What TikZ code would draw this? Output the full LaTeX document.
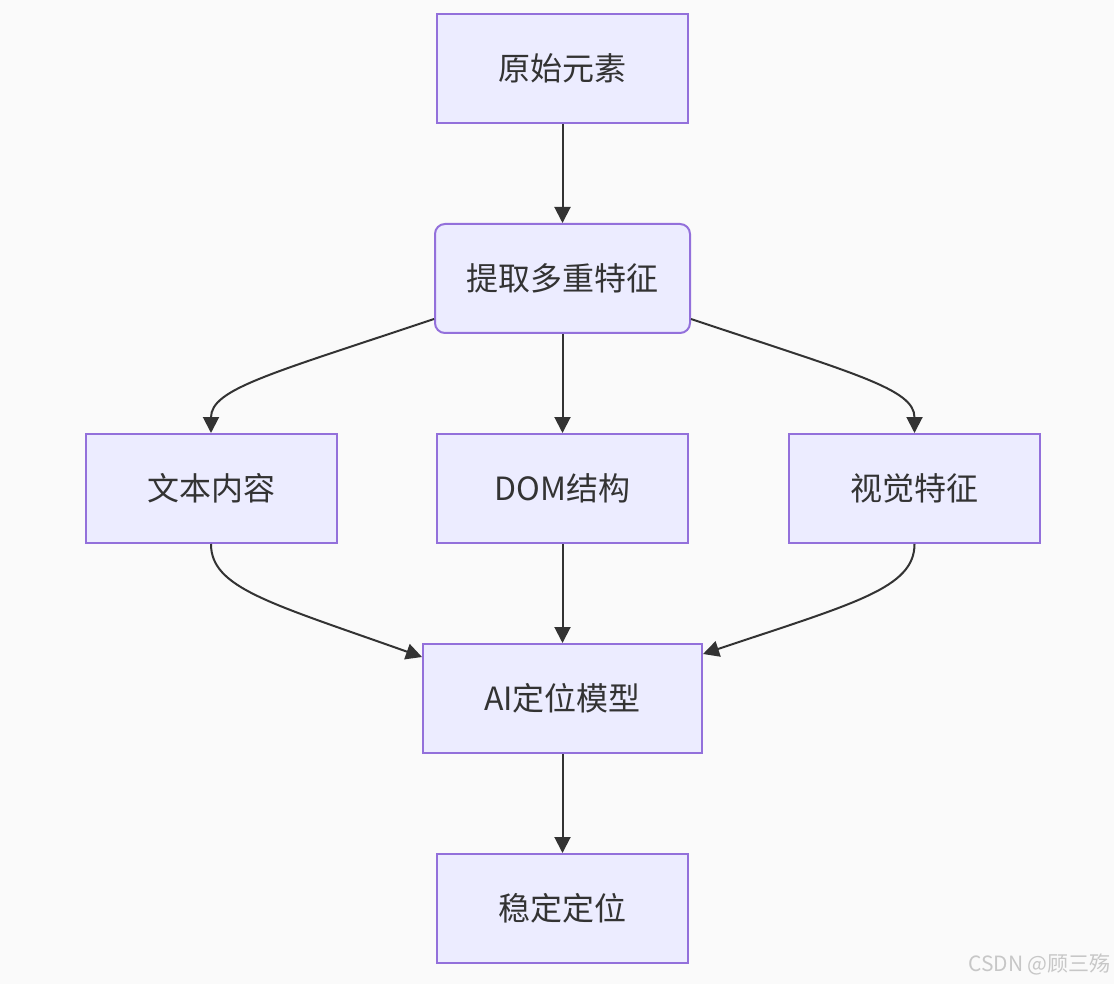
\documentclass[tikz,border=0pt]{standalone}
\usepackage{fontspec}
\setmainfont{Noto Sans CJK SC}
\usetikzlibrary{arrows.meta,calc}
\definecolor{boxfill}{HTML}{ECECFF}
\definecolor{boxline}{HTML}{9370DB}
\definecolor{ink}{HTML}{333333}
\definecolor{bg}{HTML}{FAFAFA}
\tikzset{
  flowbox/.style={draw=boxline, fill=boxfill, line width=2pt, minimum width=251pt, minimum height=109pt, inner sep=0pt, text=ink, font=\fontsize{32pt}{38pt}\selectfont},
  roundbox/.style={flowbox, rounded corners=10pt, minimum width=255pt},
  conn/.style={draw=ink, line width=2pt, -{Triangle[length=16pt,width=16pt]}},
}
\begin{document}
\begin{tikzpicture}[x=1pt,y=-1pt]
\fill[bg] (0,0) rectangle (1114,984);
\useasboundingbox (0,0) rectangle (1114,984);
\node[flowbox] (a) at (562.5,68.5) {原始元素};
\node[roundbox] (b) at (562.5,278.5) {提取多重特征};
\node[flowbox] (c) at (211,488.5) {文本内容};
\node[flowbox] (d) at (562.5,488.5) {DOM结构};
\node[flowbox] (e) at (914.5,488.5) {视觉特征};
\node[flowbox, minimum width=279pt] (f) at (562.5,698.5) {AI定位模型};
\node[flowbox] (g) at (562.5,908.5) {稳定定位};
\node[anchor=east, text=black!22, font=\fontsize{21pt}{24pt}\selectfont, inner sep=0pt] (w) at (1111,964) {CSDN @顾三殇};
\draw[conn] (a.south) -- (b.north);
\draw[conn] ($(b.south west)+(0,-15)$) .. controls ($(c.north)+(59,-59)$) and ($(c.north)+(0,-44)$) .. (c.north);
\draw[conn] (b.south) -- (d.north);
\draw[conn] ($(b.south east)+(0,-15)$) .. controls ($(e.north)+(-59,-59)$) and ($(e.north)+(0,-44)$) .. (e.north);
\draw[conn] (c.south) .. controls ($(c.south)+(0,44)$) and ($(c.south)+(59,59)$) .. ($(f.north west)+(0,14)$);
\draw[conn] (d.south) -- (f.north);
\draw[conn] (e.south) .. controls ($(e.south)+(0,44)$) and ($(e.south)+(-59,59)$) .. ($(f.north east)+(0,11)$);
\draw[conn] (f.south) -- (g.north);
\end{tikzpicture}
\end{document}
